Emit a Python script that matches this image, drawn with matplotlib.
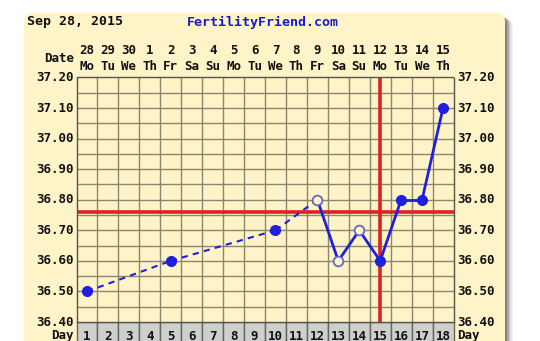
import matplotlib
matplotlib.use("Agg")
import matplotlib.pyplot as plt
from matplotlib.patches import FancyBboxPatch, Rectangle
import numpy as np

# ---- data ----
header_date = "Sep 28, 2015"
site = "FertilityFriend.com"
dates = ["28", "29", "30", "1", "2", "3", "4", "5", "6", "7", "8", "9",
         "10", "11", "12", "13", "14", "15"]
weekdays = ["Mo", "Tu", "We", "Th", "Fr", "Sa", "Su", "Mo", "Tu", "We",
            "Th", "Fr", "Sa", "Su", "Mo", "Tu", "We", "Th"]
cycle_days = list(range(1, 19))
temp_days = [1, 5, 10, 12, 13, 14, 15, 16, 17, 18]
temps = [36.50, 36.60, 36.70, 36.80, 36.60, 36.70, 36.60, 36.80, 36.80, 37.10]
filled = [True, True, True, False, False, False, True, True, True, True]
coverline = 36.76
ovulation_day = 15
ytick_vals = [36.40, 36.50, 36.60, 36.70, 36.80, 36.90, 37.00, 37.10, 37.20]

W, H = 540, 341
fig = plt.figure(figsize=(W / 100, H / 100), dpi=100)
fig.patch.set_facecolor("white")

def fx(px):
    return px / W

def fy(py):
    return 1 - py / H

YEL = "#fef4c8"
FONT = dict(family="DejaVu Sans Mono", fontweight="bold")

# background panel with shadow
bg = fig.add_axes([0, 0, 1, 1])
bg.set_xlim(0, W)
bg.set_ylim(H, 0)
bg.axis("off")
for i, a in enumerate([0.05, 0.08, 0.12, 0.16, 0.2]):
    off = 8 - i * 1.5
    bg.add_patch(FancyBboxPatch((24 + off, 15 + off * 0.5), 481, 340,
                                boxstyle="round,pad=0,rounding_size=8",
                                fc="black", ec="none", alpha=a))
bg.add_patch(FancyBboxPatch((24, 13), 481, 340,
                            boxstyle="round,pad=0,rounding_size=8",
                            fc=YEL, ec="none"))

# header
fig.text(fx(27), fy(22), header_date, ha="left", va="center", fontsize=9.5,
         color="#111111", **FONT)
fig.text(fx(187), fy(22), site, ha="left", va="center", fontsize=9.5,
         color="#1a1acc", **FONT)

# main chart axes
L, R, T, B = 76.5, 453.5, 77.5, 322
ax = fig.add_axes([fx(L), fy(B), fx(R) - fx(L), fy(T) - fy(B)])
ax.set_facecolor(YEL)
ax.set_xlim(0.5, 18.5)
ax.set_ylim(36.40, 37.20)
gc = "#8a8670"
for d in np.arange(1.5, 18.5, 1.0):
    ax.axvline(d, color=gc, lw=1.0, zorder=1)
for v in np.arange(36.45, 37.2, 0.05):
    ax.axhline(v, color=gc, lw=1.0, zorder=1)
for s in ax.spines.values():
    s.set_color("#555544")
    s.set_linewidth(1.0)
ax.set_xticks([])
ax.set_yticks([])

# coverline & ovulation line
ax.axhline(coverline, color="#dd2222", lw=2.6, zorder=2)
ax.axvline(ovulation_day, color="#dd2222", lw=2.6, zorder=2)

# temperature line: dashed across gaps, solid between consecutive days
blue = "#1f1fdd"
for i in range(len(temp_days) - 1):
    d0, d1 = temp_days[i], temp_days[i + 1]
    ls = "-" if d1 - d0 == 1 else (0, (3, 2.5))
    lw = 2.0 if d1 - d0 == 1 else 1.5
    ax.plot([d0, d1], [temps[i], temps[i + 1]], color=blue, lw=lw,
            ls=ls, zorder=3, solid_capstyle="round")
for d, t, f in zip(temp_days, temps, filled):
    if f:
        ax.plot(d, t, "o", ms=7, color=blue, zorder=4)
    else:
        ax.plot(d, t, "o", ms=7, mfc=YEL, mec="#6666cc", mew=1.3, zorder=4)

# y labels both sides
for v in ytick_vals:
    yy = fy(L * 0 + (B - (v - 36.40) / 0.80 * (B - T)))
    fig.text(fx(74), yy, f"{v:.2f}", ha="right", va="center", fontsize=9,
             color="#111111", **FONT)
    fig.text(fx(457), yy, f"{v:.2f}", ha="left", va="center", fontsize=9,
             color="#111111", **FONT)

# date header rows
colw = (R - L) / 18
for i, (dt, wd) in enumerate(zip(dates, weekdays)):
    cx = L + colw * (i + 0.5)
    fig.text(fx(cx), fy(51), dt, ha="center", va="center", fontsize=9,
             color="#111111", **FONT)
    fig.text(fx(cx), fy(66), wd, ha="center", va="center", fontsize=9,
             color="#111111", **FONT)
fig.text(fx(74), fy(58), "Date", ha="right", va="center", fontsize=9,
         color="#111111", **FONT)

# day row
for i, d in enumerate(cycle_days):
    x0 = L + colw * i
    bg.add_patch(Rectangle((x0, B), colw, 22, fc="#cfcfcf", ec="#666655",
                           lw=1.0, zorder=2))
    bg.text(x0 + colw / 2, 336, str(d), ha="center", va="center",
            fontsize=9, color="#111111", zorder=3, **FONT)
fig.text(fx(74), fy(336), "Day", ha="right", va="center", fontsize=9,
         color="#111111", **FONT)
fig.text(fx(457), fy(336), "Day", ha="left", va="center", fontsize=9,
         color="#111111", **FONT)

fig.savefig("out.png", dpi=100)
